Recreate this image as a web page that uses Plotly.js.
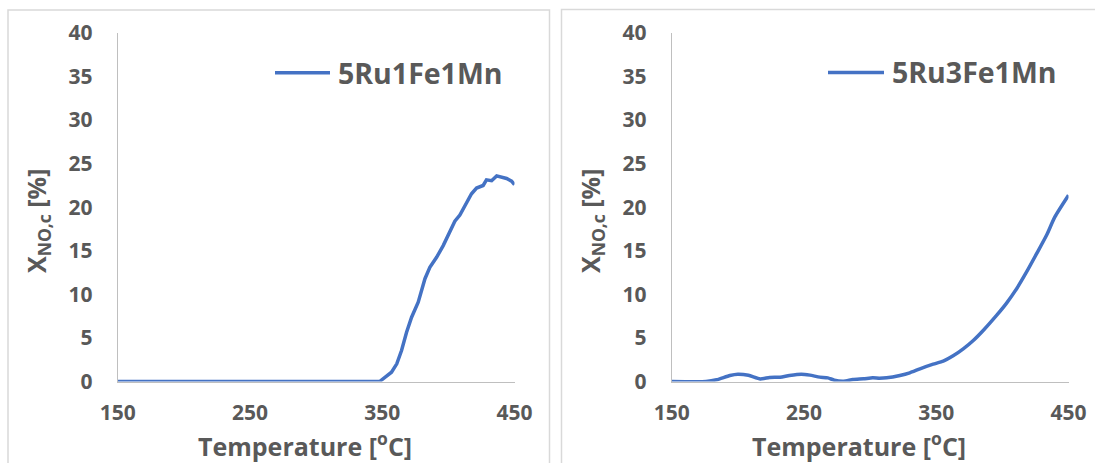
<!DOCTYPE html>
<html>
<head>
<meta charset="utf-8">
<script src="https://cdn.plot.ly/plotly-3.0.1.min.js"></script>
<style>
  html, body { margin: 0; padding: 0; background: #fff; }
  #chart { width: 1095px; height: 463px; }
</style>
</head>
<body>
<div id="chart"></div>
<script>
// NO conversion vs temperature for two catalysts
const seriesNames = ['5Ru1Fe1Mn', '5Ru3Fe1Mn'];

const tempA = [150, 200, 250, 300, 348, 353, 357, 361, 364.6, 368.4, 372.2, 377.2, 382.3, 386, 391.1,
  396.1, 401.2, 404.9, 408.7, 413.8, 417.5, 421.3, 426.3, 428.8, 432.7, 436.5, 440.2, 444, 447.8, 450];
const convA = [0, 0, 0, 0, 0, 0.6, 1.07, 2.03, 3.56, 5.66, 7.38, 9.1, 11.8, 13.1, 14.25,
  15.6, 17.36, 18.4, 19.1, 20.6, 21.55, 22.2, 22.5, 23.15, 23.05, 23.6, 23.5, 23.3, 23.0, 22.6];

const tempB = [150, 176, 184, 194, 200, 208, 217, 224, 232, 239, 248, 254.5, 262, 268, 273, 280, 287,
  295, 302, 307, 312.5, 322.5, 330, 337.7, 347.7, 355.3, 362.8, 370.4, 378, 385.5, 395.6, 403.2,
  410.8, 418.3, 425.9, 433.4, 439.7, 450];
const convB = [0, 0, 0.2, 0.69, 0.84, 0.72, 0.3, 0.46, 0.5, 0.69, 0.84, 0.73, 0.5, 0.42, 0.15, 0.04, 0.23,
  0.31, 0.42, 0.38, 0.42, 0.69, 1.0, 1.46, 1.99, 2.34, 2.95, 3.75, 4.71, 5.86, 7.59, 9.0,
  10.65, 12.57, 14.67, 16.78, 18.89, 21.38];

const xTicks = [150, 250, 350, 450];
const yTicks = [0, 5, 10, 15, 20, 25, 30, 35, 40];

const W = 1095, H = 463;
const px = v => v / W;          // pixel -> paper x
const py = v => (H - v) / H;    // pixel -> paper y

const textGray = '#595959';
const lineBlue = '#4472C4';
const FONT = 'Open Sans, sans-serif';

const traces = [
  { x: tempA, y: convA, name: seriesNames[0], type: 'scatter', mode: 'lines',
    line: { color: lineBlue, width: 3.5 }, xaxis: 'x', yaxis: 'y' },
  { x: tempB, y: convB, name: seriesNames[1], type: 'scatter', mode: 'lines',
    line: { color: lineBlue, width: 3.5, shape: 'spline', smoothing: 0.6 },
    xaxis: 'x2', yaxis: 'y2' }
];

const tickFont = { family: FONT, size: 21, color: textGray, weight: 'bold' };

function xAxis(domain, anchor) {
  return {
    domain: domain, anchor: anchor, range: [150, 450], tickvals: xTicks,
    showgrid: false, zeroline: false, showline: true, linecolor: '#bfbfbf', linewidth: 1,
    ticks: '', tickfont: tickFont, ticklabelstandoff: 12, fixedrange: true
  };
}
function yAxis(anchor) {
  return {
    domain: [py(381.5), py(33)], anchor: anchor, range: [0, 40], tickvals: yTicks,
    showgrid: false, zeroline: false, showline: true, linecolor: '#bfbfbf', linewidth: 1,
    ticks: '', tickfont: tickFont, ticklabelstandoff: 20, fixedrange: true
  };
}

const legendFont = { family: FONT, size: 28.5, color: textGray, weight: 'bold' };
const titleFont = { family: FONT, size: 25, color: textGray, weight: 'bold' };

// Legend keys: a short sample line followed by the series name
const legendKeys = [
  { x0: 275, x1: 330, y: 72.7, textX: 336, name: seriesNames[0] },
  { x0: 828, x1: 884, y: 72.5, textX: 890, name: seriesNames[1] }
];

const shapes = [
  // chart frames
  { type: 'rect', xref: 'paper', yref: 'paper', x0: px(8), x1: px(549.5), y0: py(470), y1: py(10),
    line: { color: '#d9d9d9', width: 1.5 }, layer: 'below' },
  { type: 'rect', xref: 'paper', yref: 'paper', x0: px(561.5), x1: px(1105), y0: py(470), y1: py(9.5),
    line: { color: '#d9d9d9', width: 1.5 }, layer: 'below' }
];
const annotations = [
  { text: 'Temperature [<sup>o</sup>C]', xref: 'paper', yref: 'paper', x: px(305), y: py(444),
    xanchor: 'center', yanchor: 'middle', showarrow: false, font: titleFont },
  { text: 'Temperature [<sup>o</sup>C]', xref: 'paper', yref: 'paper', x: px(859), y: py(444),
    xanchor: 'center', yanchor: 'middle', showarrow: false, font: titleFont },
  { text: 'X<sub>NO,c</sub> [%]', xref: 'paper', yref: 'paper', x: px(37), y: py(221),
    xanchor: 'center', yanchor: 'middle', textangle: -90, showarrow: false, font: titleFont },
  { text: 'X<sub>NO,c</sub> [%]', xref: 'paper', yref: 'paper', x: px(591), y: py(221),
    xanchor: 'center', yanchor: 'middle', textangle: -90, showarrow: false, font: titleFont }
];
legendKeys.forEach(k => {
  shapes.push({ type: 'line', xref: 'paper', yref: 'paper', x0: px(k.x0), x1: px(k.x1),
    y0: py(k.y), y1: py(k.y), line: { color: lineBlue, width: 3.5 } });
  annotations.push({ text: k.name, xref: 'paper', yref: 'paper', x: px(k.textX), y: py(k.y),
    xanchor: 'left', yanchor: 'middle', showarrow: false, font: legendFont });
});

const layout = {
  width: W, height: H,
  margin: { l: 0, r: 0, t: 0, b: 0 },
  paper_bgcolor: '#fff', plot_bgcolor: '#fff',
  showlegend: false,
  xaxis: xAxis([px(117.7), px(514.5)], 'y'),
  yaxis: yAxis('x'),
  xaxis2: xAxis([px(671.7), px(1068.5)], 'y2'),
  yaxis2: yAxis('x2'),
  annotations: annotations,
  shapes: shapes
};

Plotly.newPlot('chart', traces, layout, { displayModeBar: false, staticPlot: true });
</script>
</body>
</html>
